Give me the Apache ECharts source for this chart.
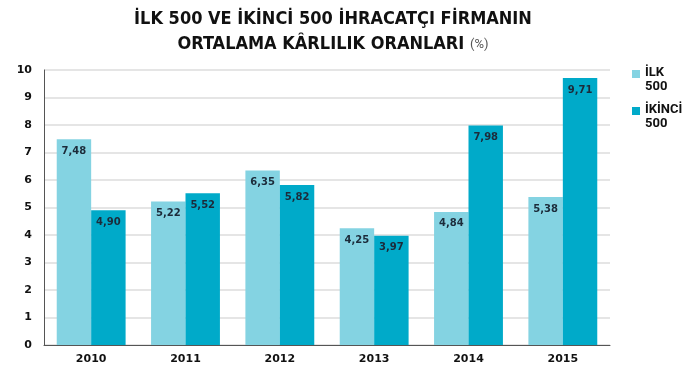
<!DOCTYPE html>
<html>
<head>
<meta charset="utf-8">
<script src="https://cdn.jsdelivr.net/npm/echarts@6/dist/echarts.min.js"></script>
<style>
  html, body { margin: 0; padding: 0; background: #fff; }
  #chart { width: 692px; height: 377px; }
</style>
</head>
<body>
<div id="chart"></div>
<script>
  var years = ['2010', '2011', '2012', '2013', '2014', '2015'];
  var ilk500 = [7.48, 5.22, 6.35, 4.25, 4.84, 5.38];      // İLK 500
  var ikinci500 = [4.90, 5.52, 5.82, 3.97, 7.98, 9.71];   // İKİNCİ 500
  var seriesNames = ['İLK\n500', 'İKİNCİ\n500'];

  var chart = echarts.init(document.getElementById('chart'));

  function barLabel() {
    return {
      show: true,
      position: 'insideTop',
      distance: 7,
      color: '#1c2b3a',
      fontSize: 10,
      fontWeight: 'bold',
      fontFamily: 'DejaVu Sans',
      formatter: function (p) { return p.value.toFixed(2).replace('.', ','); }
    };
  }

  var option = {
    animation: false,
    color: ['#84d3e2', '#00aac9'],
    title: {
      text: 'İLK 500 VE İKİNCİ 500 İHRACATÇI FİRMANIN\nORTALAMA KÂRLILIK ORANLARI {p|(%)}',
      left: 328,
      top: 2,
      textAlign: 'center',
      textStyle: {
        fontFamily: "'Liberation Sans Narrow', 'DejaVu Sans Condensed', Roboto",
        fontWeight: 'bold',
        fontSize: 18,
        lineHeight: 25,
        color: '#111',
        rich: {
          p: { fontFamily: 'Roboto', fontSize: 13, color: '#555', fontWeight: 'normal' }
        }
      }
    },
    legend: {
      orient: 'vertical',
      left: 627,
      top: 61,
      itemWidth: 8,
      itemHeight: 20,
      itemGap: 9,
      // square sits at the top of the icon box so it lines up with the first text line
      icon: 'path://M0,0H8V8H0Z M0,8L0,20',
      data: seriesNames,
      textStyle: {
        fontFamily: 'Roboto',
        fontWeight: 'bold',
        fontSize: 13,
        lineHeight: 14,
        color: '#111'
      }
    },
    grid: { left: 44, right: 82, top: 70, bottom: 32 },
    xAxis: {
      type: 'category',
      data: years,
      axisTick: { show: false },
      axisLine: { lineStyle: { color: '#555', width: 1 } },
      axisLabel: { color: '#111', fontWeight: 'bold', fontSize: 11, fontFamily: 'DejaVu Sans', margin: 9 }
    },
    yAxis: {
      type: 'value',
      min: 0,
      max: 10,
      interval: 1,
      axisLine: { show: true, lineStyle: { color: '#555', width: 1 } },
      axisTick: { show: false },
      splitLine: { lineStyle: { color: '#dcdcdc', width: 1.5 } },
      axisLabel: { color: '#111', fontWeight: 'bold', fontSize: 11, fontFamily: 'DejaVu Sans', margin: 12 }
    },
    series: [
      {
        name: seriesNames[0],
        type: 'bar',
        data: ilk500,
        barGap: '0%',
        barCategoryGap: '27%',
        label: barLabel()
      },
      {
        name: seriesNames[1],
        type: 'bar',
        data: ikinci500,
        label: barLabel()
      }
    ]
  };

  chart.setOption(option);
</script>
</body>
</html>
